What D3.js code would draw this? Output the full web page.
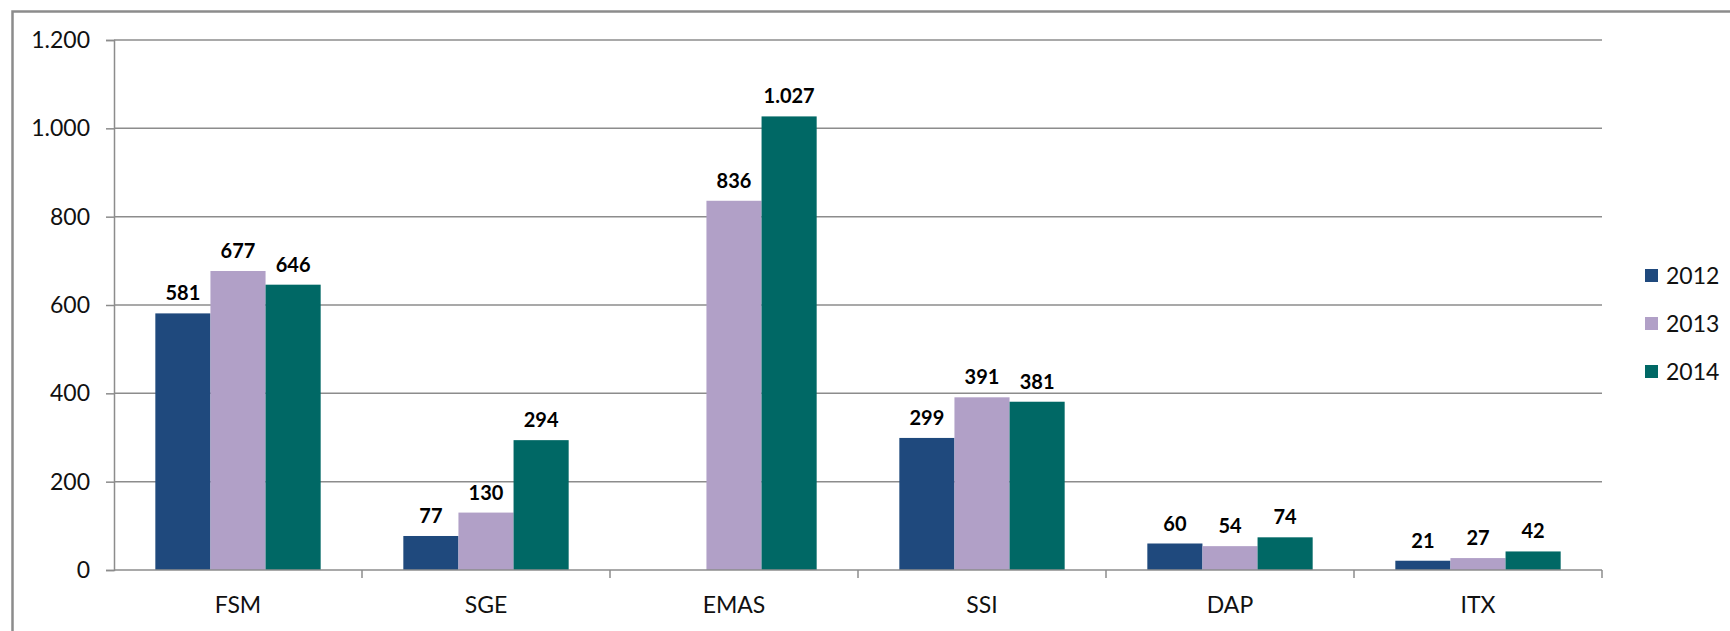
<!DOCTYPE html>
<html>
<head>
<meta charset="utf-8">
<script src="https://cdn.jsdelivr.net/npm/d3@7/dist/d3.min.js"></script>
<style>
  html, body { margin: 0; padding: 0; background: #fff; }
  svg { display: block; font-family: Lato, "Open Sans", sans-serif; }
</style>
</head>
<body>
<svg id="chart" width="1730" height="631"></svg>
<script>
// data
const categories = ["FSM", "SGE", "EMAS", "SSI", "DAP", "ITX"];
const series = ["2012", "2013", "2014"];
const values2012 = [581, 77, null, 299, 60, 21];
const values2013 = [677, 130, 836, 391, 54, 27];
const values2014 = [646, 294, 1027, 381, 74, 42];
const yTicks = [0, 200, 400, 600, 800, 1000, 1200];
const colors = ["#1f497d", "#b1a0c7", "#006865"];

const valuesBySeries = [values2012, values2013, values2014];

const svg = d3.select("#chart");
const W = 1730, H = 631;
const plotLeft = 114, plotRight = 1602, plotTop = 40, plotBottom = 570;
const gray = "#8c8c8c";

const loc = d3.formatLocale({ decimal: ",", thousands: ".", grouping: [3], currency: ["", ""] });
const fmt = loc.format(",d");

// outer frame (runs off right/bottom edge like the screenshot)
svg.append("rect")
    .attr("x", 12.5).attr("y", 11.5)
    .attr("width", W + 20).attr("height", H + 20)
    .attr("fill", "none")
    .attr("stroke", gray)
    .attr("stroke-width", 2.5);

const x = d3.scaleBand().domain(categories).range([plotLeft, plotRight]).paddingInner(0).paddingOuter(0);
const x1 = d3.scaleBand().domain(series).range([0, x.bandwidth()]).paddingInner(0).paddingOuter(0.75);
const y = d3.scaleLinear().domain([0, 1200]).range([plotBottom, plotTop]);

// gridlines
svg.append("g")
    .selectAll("line")
    .data(yTicks.filter(d => d > 0))
    .join("line")
    .attr("x1", plotLeft).attr("x2", plotRight)
    .attr("y1", d => y(d)).attr("y2", d => y(d))
    .attr("stroke", gray)
    .attr("stroke-width", 1.5);

// y axis
const yAxis = svg.append("g")
    .attr("transform", `translate(${plotLeft},0)`)
    .call(d3.axisLeft(y).tickValues(yTicks).tickFormat(fmt).tickSize(8).tickPadding(16));
yAxis.select(".domain").attr("stroke", gray).attr("stroke-width", 1.5);
yAxis.selectAll(".tick line").attr("stroke", gray).attr("stroke-width", 1.5);
yAxis.selectAll("text").attr("font-size", 23).attr("fill", "#111").attr("font-family", "Lato, sans-serif");

// bars
const groups = svg.append("g")
    .selectAll("g")
    .data(series)
    .join("g")
    .attr("fill", (d, i) => colors[i]);

groups.selectAll("rect")
    .data((s, si) => categories.map((c, ci) => ({ c, s, v: valuesBySeries[si][ci] })).filter(d => d.v != null))
    .join("rect")
    .attr("x", d => x(d.c) + x1(d.s))
    .attr("width", x1.bandwidth())
    .attr("y", d => y(d.v))
    .attr("height", d => y(0) - y(d.v));

// data labels
groups.selectAll("text")
    .data((s, si) => categories.map((c, ci) => ({ c, s, v: valuesBySeries[si][ci] })).filter(d => d.v != null))
    .join("text")
    .attr("x", d => x(d.c) + x1(d.s) + x1.bandwidth() / 2)
    .attr("y", d => y(d.v) - 13)
    .attr("text-anchor", "middle")
    .attr("font-size", 20)
    .attr("font-weight", "bold")
    .attr("fill", "#000")
    .text(d => fmt(d.v));

// x axis
const xAxis = svg.append("g")
    .attr("transform", `translate(0,${plotBottom})`)
    .call(d3.axisBottom(x).tickSize(0).tickPadding(27));
xAxis.select(".domain").remove();
xAxis.selectAll("text").attr("font-size", 23).attr("fill", "#111").attr("font-family", "Lato, sans-serif");

svg.append("line")
    .attr("x1", plotLeft).attr("x2", plotRight)
    .attr("y1", plotBottom).attr("y2", plotBottom)
    .attr("stroke", gray).attr("stroke-width", 1.5);

// category boundary ticks
svg.append("g")
    .selectAll("line")
    .data(categories.map(c => x(c)).concat([plotRight]).slice(1))
    .join("line")
    .attr("x1", d => d).attr("x2", d => d)
    .attr("y1", plotBottom).attr("y2", plotBottom + 8)
    .attr("stroke", gray).attr("stroke-width", 1.5);

// legend
const legend = svg.append("g")
    .selectAll("g")
    .data(series)
    .join("g")
    .attr("transform", (d, i) => `translate(1645,${269 + i * 48})`);
legend.append("rect")
    .attr("width", 13).attr("height", 13)
    .attr("fill", (d, i) => colors[i]);
legend.append("text")
    .attr("x", 21).attr("y", 15)
    .attr("font-size", 23)
    .attr("fill", "#111")
    .text(d => d);
</script>
</body>
</html>
